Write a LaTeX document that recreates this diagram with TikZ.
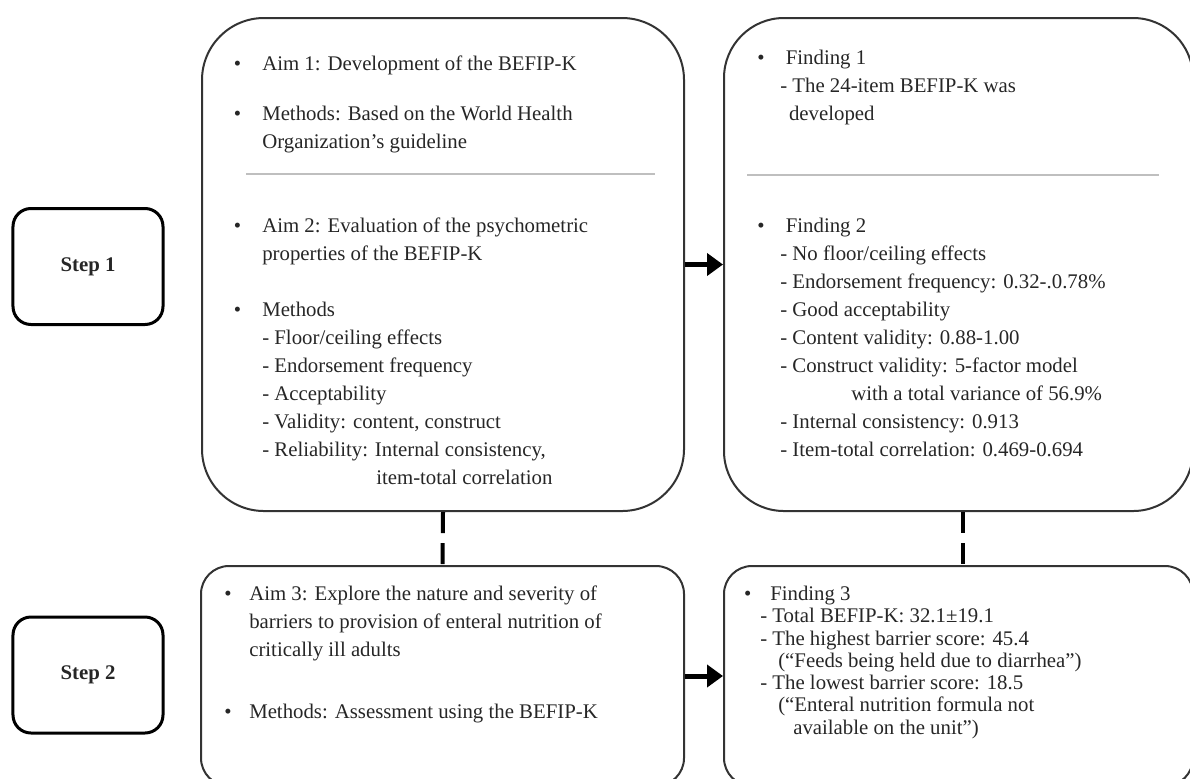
\documentclass[tikz,border=0pt]{standalone}
\usepackage{fontspec}
\setmainfont{Liberation Serif}
\usetikzlibrary{arrows.meta,positioning}
\tikzset
{
    stepbox/.style  = {rectangle, rounded corners=4.5mm, draw=black, line width=0.75mm, minimum width=37.5mm, minimum height=29mm, align=center, font=\fontsize{14.8}{18}\selectfont\bfseries, text=black!85},
    aimbox/.style   = {rectangle, rounded corners=#1, draw=black!80, line width=0.5mm, anchor=north west, inner sep=0pt},
    itemtext/.style = {anchor=north west, yshift=5mm, align=left, inner sep=0pt, text=black!85, font=\fontsize{14.8}{19.9}\selectfont, execute at begin node={\rule{0pt}{5mm}}},
    divider/.style  = {draw=black!25, line width=0.3mm},
    arrow/.style    = {line width=1.25mm, -{Triangle[length=4mm, width=5.5mm]}},
    dashlink/.style = {line width=1mm, dash pattern=on 5.25mm off 2.5mm}
}
\newcommand\bul[1][5.3mm]{\llap{\textbullet\hspace{#1}}}

\begin{document}
\begin{tikzpicture}[x=0.25mm, y=-0.25mm]

	 \newcommand\BOXTOP{17}
	 \newcommand\LOWTOP{565}

	 \useasboundingbox (0,0) rectangle (1190,778);

	 \node (step1) [stepbox]                                                          at (88, 266.5)      {Step 1};
	 \node (aims1) [aimbox=15.5mm, minimum width=120.5mm, minimum height=123.25mm]    at (201, \BOXTOP)   {};
	 \node (find1) [aimbox=15mm, minimum width=117.25mm, minimum height=123.25mm]     at (723, \BOXTOP)   {};
	 \node (step2) [stepbox]                                                          at (88, 675)        {Step 2};
	 \node (aims2) [aimbox=7mm, minimum width=120.75mm, minimum height=55mm]          at (200, \LOWTOP)   {};
	 \node (find2) [aimbox=7mm, minimum width=117.25mm, minimum height=55mm]          at (723, \LOWTOP)   {};

	 % aims, step 1
	 \node (aim1)  [itemtext] at (262, 70)  {\bul Aim 1: Development of the BEFIP-K};
	 \node (meth1) [itemtext] at (262, 126) {\bul Methods: Based on the World Health\\Organization’s guideline};
	 \node (aim2)  [itemtext] at (262, 238) {\bul Aim 2: Evaluation of the psychometric\\properties of the BEFIP-K};
	 \node (meth2) [itemtext] at (262, 322) {\bul Methods\\- Floor/ceiling effects\\- Endorsement frequency\\- Acceptability\\- Validity: content, construct\\- Reliability: Internal consistency,\\\hspace*{28.5mm}item-total correlation};

	 % findings, step 1
	 \node (fnd1)  [itemtext] at (780, 70)  {\hspace*{1.4mm}\bul Finding 1\\- The 24-item BEFIP-K was\\\hspace*{2.2mm}developed};
	 \node (fnd2)  [itemtext] at (780, 238) {\hspace*{1.4mm}\bul Finding 2\\- No floor/ceiling effects\\- Endorsement frequency: 0.32-.0.78\%\\- Good acceptability\\- Content validity: 0.88-1.00\\- Construct validity: 5-factor model\\\hspace*{17.75mm}with a total variance of 56.9\%\\- Internal consistency: 0.913\\- Item-total correlation: 0.469-0.694};

	 % step 2
	 \node (aim3)  [itemtext] at (249, 606) {\bul[4.4mm]Aim 3: Explore the nature and severity of\\barriers to provision of enteral nutrition of\\critically ill adults};
	 \node (meth3) [itemtext] at (249, 718) {\bul[4.4mm]Methods: Assessment using the BEFIP-K};
	 \node (fnd3)  [itemtext, font=\fontsize{14.8}{15.8}\selectfont] at (760, 606) {\hspace*{2.5mm}\bul[4.7mm]Finding 3\\- Total BEFIP-K: 32.1±19.1\\- The highest barrier score: 45.4\\\hspace*{4.5mm}(“Feeds being held due to diarrhea”)\\- The lowest barrier score: 18.5\\\hspace*{4.5mm}(“Enteral nutrition formula not\\\hspace*{8.25mm}available on the unit”)};

	 \draw[divider] (246,174) -- (655,174);
	 \draw[divider] (747,175) -- (1159,175);

	 \draw[arrow]    (aims1.east)  -- (find1.west);
	 \draw[arrow]    (aims2.east)  -- (find2.west);
	 \draw[dashlink] (aims1.south) -- (aims2.north);
	 \draw[dashlink] ([xshift=1.125mm]find1.south) -- ([xshift=1.125mm]find2.north);

\end{tikzpicture}
\end{document}
